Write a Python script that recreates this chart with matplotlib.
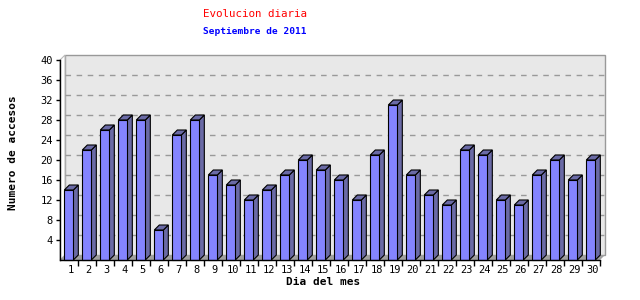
import matplotlib
matplotlib.use("Agg")
import matplotlib.pyplot as plt
from matplotlib.patches import Polygon, Rectangle

# accesses per day, September 2011
days = list(range(1, 31))
accesses = [14, 22, 26, 28, 28, 6, 25, 28, 17, 15,
            12, 14, 17, 20, 18, 16, 12, 21, 31, 17,
            13, 11, 22, 21, 12, 11, 17, 20, 16, 20]
y_ticks = [4, 8, 12, 16, 20, 24, 28, 32, 36, 40]

FRONT = "#8484ff"
SHADE = "#6a6aa6"
WALL = "#e8e8e8"
FLOOR = "#a0a0a0"
MONO = "DejaVu Sans Mono"

W, H = 640, 300
fig = plt.figure(figsize=(W / 100, H / 100), dpi=100)
ax = fig.add_axes([60 / W, 40 / H, 540 / W, 200 / H])
ax.set_xlim(0, 30)
ax.set_ylim(0, 40)

# depth offset of the fake 3d: 5 px right, 5 px up
dx = 5 / 18
dy = 1.0

# back wall + floor
ax.add_patch(Rectangle((dx, dy), 30, 40, facecolor=WALL, edgecolor="#999999",
                       lw=1, clip_on=False, zorder=0))
ax.add_patch(Polygon([(0, 0), (30, 0), (30 + dx, dy), (dx, dy)], closed=True,
                     facecolor=FLOOR, edgecolor="none", clip_on=False, zorder=0.5))
ax.add_patch(Polygon([(0, 0), (dx, dy), (dx, 40 + dy), (0, 40)], closed=True,
                     facecolor="white", edgecolor="#bbbbbb", lw=0.8,
                     clip_on=False, zorder=0.4))
for t in y_ticks[:-1]:
    ax.plot([dx, 30 + dx], [t + dy, t + dy], color="#999999", lw=1,
            dashes=(4, 4), zorder=1, clip_on=False)

bw = 0.5
x0 = 0.24
for i, v in enumerate(accesses):
    l = i + x0
    r = l + bw
    ax.add_patch(Polygon([(r, 0), (r + dx, dy), (r + dx, v + dy), (r, v)], closed=True,
                         facecolor=SHADE, edgecolor="black", lw=0.8, zorder=3,
                         clip_on=False))
    ax.add_patch(Polygon([(l, v), (l + dx, v + dy), (r + dx, v + dy), (r, v)], closed=True,
                         facecolor=SHADE, edgecolor="black", lw=0.8, zorder=3,
                         clip_on=False))
    ax.add_patch(Rectangle((l, 0), bw, v, facecolor=FRONT, edgecolor="black",
                           lw=0.8, zorder=4, clip_on=False))

ax.set_facecolor("none")
for s in ["top", "right"]:
    ax.spines[s].set_visible(False)
ax.spines["left"].set_linewidth(1)
ax.spines["bottom"].set_linewidth(1)
ax.spines["left"].set_zorder(5)
ax.spines["bottom"].set_zorder(5)

ax.set_yticks(y_ticks)
ax.set_yticklabels([str(t) for t in y_ticks], fontfamily=MONO, fontsize=7.5)
ax.tick_params(axis="y", length=3, width=1, pad=2)

ax.set_xticks([i + 1 for i in range(30)])
ax.set_xticklabels([])
ax.tick_params(axis="x", length=4, width=1)
for i, d in enumerate(days):
    ax.text(i + 0.6, -1.0, str(d), ha="center", va="top", fontfamily=MONO,
            fontsize=7.5, clip_on=False)

fig.text(255 / W, 1 - 14 / H, "Evolucion diaria", color="red", ha="center",
         va="center", fontfamily=MONO, fontsize=7.8)
fig.text(255 / W, 1 - 32 / H, "Septiembre de 2011", color="blue", ha="center",
         va="center", fontfamily=MONO, fontsize=6.8, fontweight="bold")
fig.text(323 / W, 1 - 282 / H, "Dia del mes", ha="center", va="center",
         fontfamily=MONO, fontsize=8, fontweight="bold")
fig.text(13 / W, 1 - 153 / H, "Numero de accesos", ha="center", va="center",
         rotation=90, fontfamily=MONO, fontsize=8, fontweight="bold")

fig.savefig("out.png", dpi=100)
